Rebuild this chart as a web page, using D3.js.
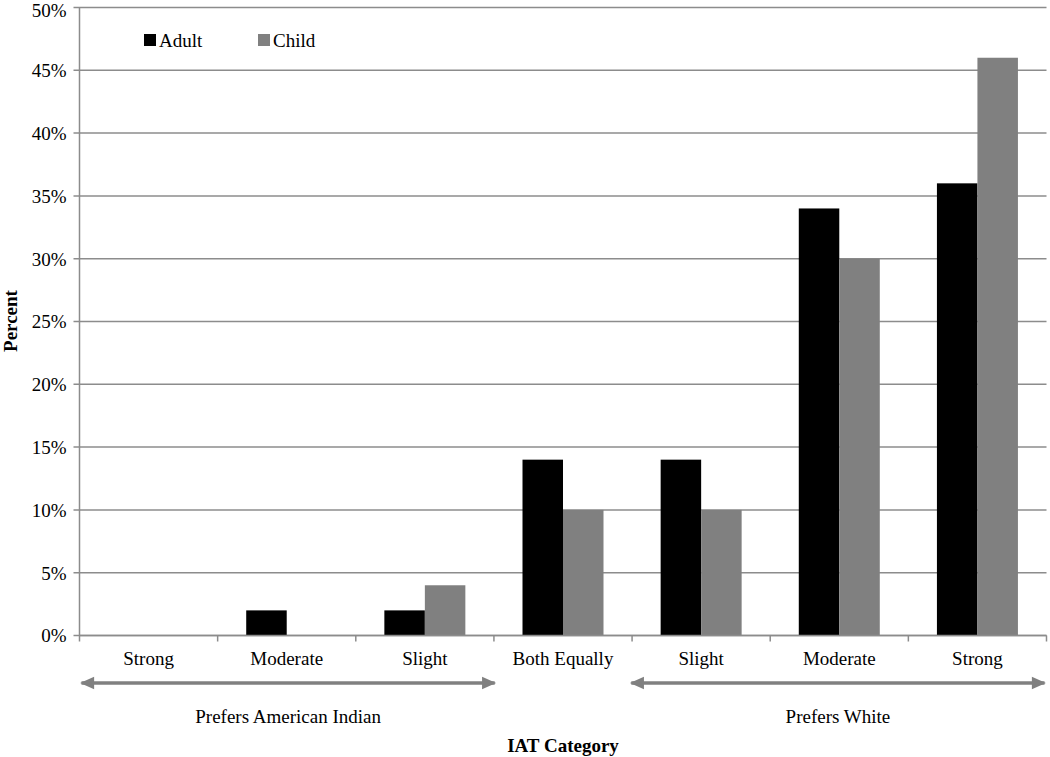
<!DOCTYPE html>
<html><head><meta charset="utf-8">
<script src="https://cdn.jsdelivr.net/npm/d3@7"></script>
<style>body{margin:0;background:#fff}svg{display:block}svg text{font-family:"Liberation Serif","Times New Roman",serif;fill:#000}</style>
</head><body>
<svg id="c" width="1050" height="757"></svg>
<script>
const categories = ["Strong","Moderate","Slight","Both Equally","Slight","Moderate","Strong"];
const adult = [0,2,2,14,14,34,36];
const child = [0,0,4,10,10,30,46];
const seriesNames = ["Adult","Child"];
const seriesColors = ["#000000","#808080"];
const yTicks = [0,5,10,15,20,25,30,35,40,45,50];
const groupLabels = [{label:"Prefers American Indian", from:0, to:3.02},{label:"Prefers White", from:3.98, to:7}];

const svg = d3.select("#c");
const FS = 19;
const L = 79.5, R = 1046.5, T = 7.5, B = 635.5;
const x = d3.scaleBand().domain(d3.range(categories.length)).range([L,R]).paddingInner(0).paddingOuter(0);
const y = d3.scaleLinear().domain([0,50]).range([B,T]);
const grid = "#8c8c8c";

// gridlines
svg.append("g").selectAll("line").data(yTicks).join("line")
  .attr("x1",L-6).attr("x2",R).attr("y1",d=>y(d)).attr("y2",d=>y(d))
  .attr("stroke",grid).attr("stroke-width",1.5);
// y labels
svg.append("g").selectAll("text").data(yTicks).join("text")
  .attr("x",L-13).attr("y",d=>Math.max(y(d),10)).attr("dy","0.36em").attr("text-anchor","end")
  .attr("font-size",FS).text(d=>d+"%");

// bars
const bw = 40.5;
const gb = svg.append("g");
categories.forEach((c,i)=>{
  const cx = x(i)+x.bandwidth()/2;
  [adult[i],child[i]].forEach((v,k)=>{
    if(v<=0) return;
    gb.append("rect").attr("x",cx-bw+k*bw).attr("width",bw)
      .attr("y",y(v)).attr("height",y(0)-y(v)).attr("fill",seriesColors[k]);
  });
});

// axes lines
svg.append("line").attr("x1",L).attr("x2",L).attr("y1",T).attr("y2",B).attr("stroke",grid).attr("stroke-width",1.5);
svg.append("line").attr("x1",L).attr("x2",R).attr("y1",B).attr("y2",B).attr("stroke",grid).attr("stroke-width",1.5);
// x ticks
svg.append("g").selectAll("line").data(d3.range(categories.length+1)).join("line")
  .attr("x1",d=>L+d*x.step()).attr("x2",d=>L+d*x.step()).attr("y1",B).attr("y2",B+6)
  .attr("stroke",grid).attr("stroke-width",1.5);
// x labels
svg.append("g").selectAll("text").data(categories).join("text")
  .attr("x",(d,i)=>x(i)+x.bandwidth()/2).attr("y",665).attr("text-anchor","middle")
  .attr("font-size",FS).text(d=>d);

// arrows
const defs = svg.append("defs");
defs.append("marker").attr("id","ah").attr("viewBox","0 0 10 10").attr("refX",9).attr("refY",5)
  .attr("markerWidth",4.5).attr("markerHeight",4).attr("orient","auto-start-reverse").attr("markerUnits","strokeWidth")
  .append("path").attr("d","M0,0.5 L10,5 L0,9.5 z").attr("fill","#808080");
groupLabels.forEach(g=>{
  const x1 = L + g.from*x.step(), x2 = L + g.to*x.step();
  svg.append("line").attr("x1",x1+2).attr("x2",x2-2).attr("y1",683).attr("y2",683)
    .attr("stroke","#808080").attr("stroke-width",3.5)
    .attr("marker-start","url(#ah)").attr("marker-end","url(#ah)");
  svg.append("text").attr("x",(x1+x2)/2).attr("y",723).attr("text-anchor","middle")
    .attr("font-size",FS).text(g.label);
});

// axis titles
svg.append("text").attr("x",563).attr("y",752).attr("text-anchor","middle")
  .attr("font-size",FS).attr("font-weight","bold").text("IAT Category");
svg.append("text").attr("transform","translate(17,321) rotate(-90)").attr("text-anchor","middle")
  .attr("font-size",FS).attr("font-weight","bold").text("Percent");

// legend
const lg = svg.append("g");
seriesNames.forEach((n,k)=>{
  const lx = 144 + k*114;
  lg.append("rect").attr("x",lx).attr("y",34).attr("width",12).attr("height",12).attr("fill",seriesColors[k]);
  lg.append("text").attr("x",lx+15).attr("y",47).attr("font-size",FS).text(n);
});
</script>
</body></html>
